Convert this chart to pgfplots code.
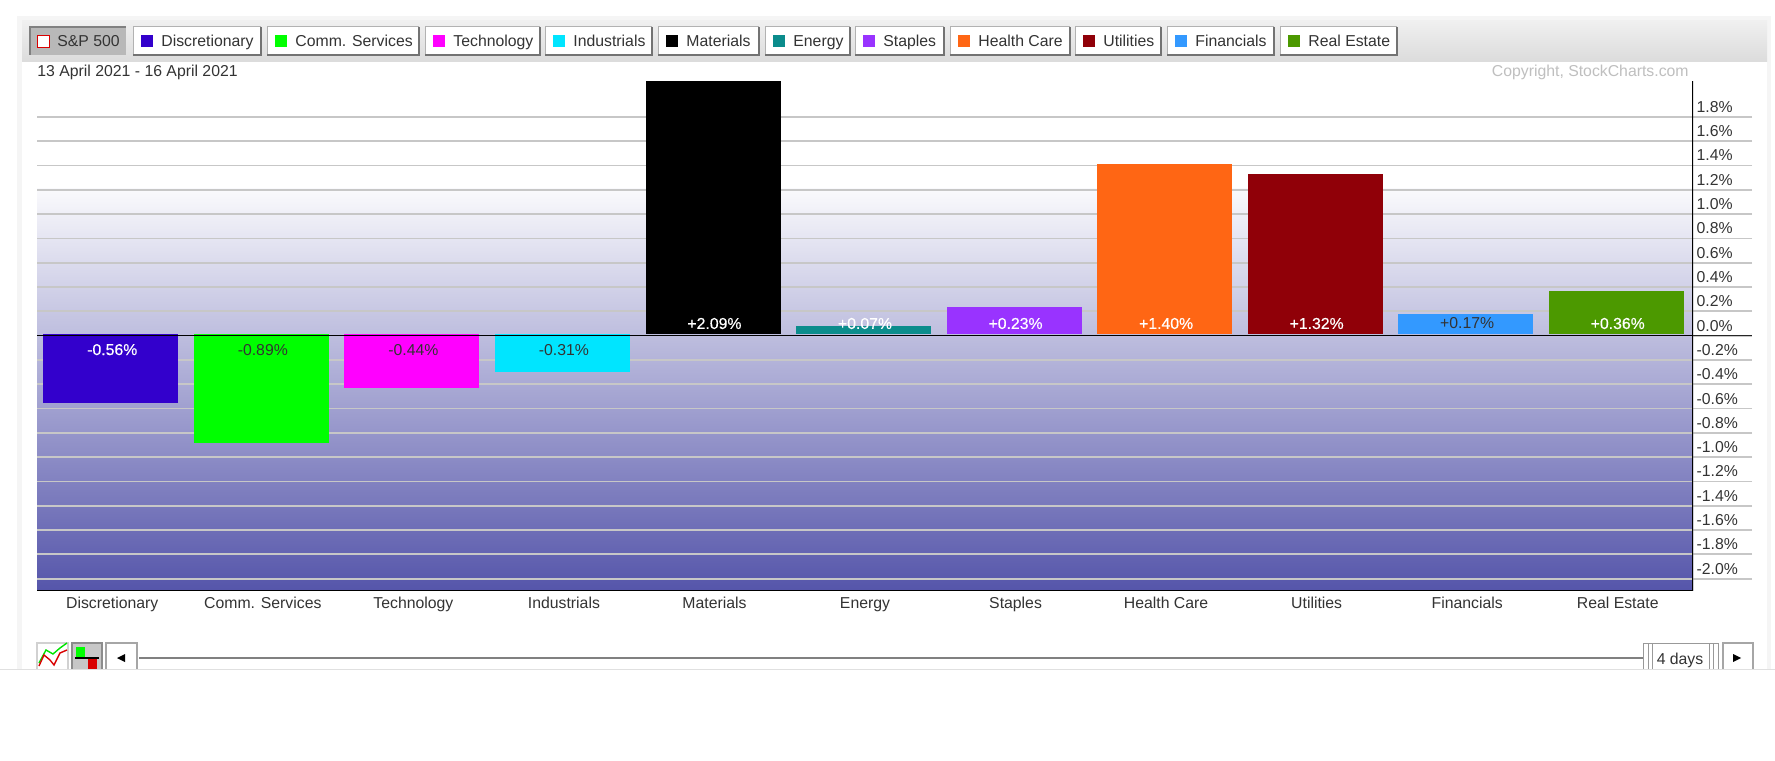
\documentclass[border=0pt]{standalone}
\usepackage{pgfplots}
\pgfplotsset{compat=1.18}
\usepackage{fontspec}
\setmainfont{Liberation Sans}
\newfontface\lblface[FakeBold=0.35]{Liberation Sans}
\definecolor{txt}{HTML}{333333}
\definecolor{bgbot}{HTML}{5555AA}
\definecolor{cDisc}{HTML}{3300CC}
\definecolor{cComm}{HTML}{00FF00}
\definecolor{cTech}{HTML}{FF00FF}
\definecolor{cInd}{HTML}{00E5FF}
\definecolor{cMat}{HTML}{000000}
\definecolor{cEne}{HTML}{0B8C8C}
\definecolor{cSta}{HTML}{9933FF}
\definecolor{cHea}{HTML}{FF6614}
\definecolor{cUti}{HTML}{900008}
\definecolor{cFin}{HTML}{3399FF}
\definecolor{cRea}{HTML}{4C9900}
\pgfdeclareverticalshading{chartbg}{100bp}{color(0bp)=(bgbot); color(25bp)=(bgbot); color(64.5bp)=(white!97!bgbot); color(64.6bp)=(white); color(100bp)=(white)}
\newcommand{\fs}{\fontsize{7.9}{9.5}\selectfont}
% x0,x1,colour,text
\newcommand{\btn}[4]{%
  \fill[white] (#1,27) rectangle (#2,55);
  \draw[black!30,line width=.5pt] (#1,55) -- (#1,27) -- (#2,27);
  \draw[black!55,line width=.8pt] (#2,27) -- (#2,55) -- (#1,55);
  \fill[#3] ({#1+8},35) rectangle ({#1+20},47);
  \node[anchor=base west,inner sep=0pt,text=txt,font=\fs] at ({#1+28},47) {#4};
}
\pgfplotsset{br/.style={ybar,bar width=67.5pt,bar shift=-0.7pt,draw=none,yshift=0.6pt}}
\begin{document}
\begin{tikzpicture}
\path[use as bounding box] (0,0) rectangle (887.5pt,380pt);
\begin{scope}[shift={(0pt,380pt)},x=0.5pt,y=-0.5pt]
  \fill[black!4] (17,16) rectangle (1771,669);
  \fill[white] (22,62) rectangle (1767,669);
  \shade[top color=black!6,bottom color=black!14] (22,21) rectangle (1767,62);
  % S&P button
  \fill[black!28] (30,27) rectangle (126,55);
  \draw[black!50,line width=.8pt] (30,55) -- (30,27) -- (126,27);
  \fill[white] (37,35) rectangle (49,47);
  \draw[red!85!black,line width=.45pt] (37,35) rectangle (49,47);
  \node[anchor=base west,inner sep=0pt,text=txt,font=\fs] at (57,47) {S\&P 500};
  \btn{133}{261}{cDisc}{Discretionary}
  \btn{267}{419}{cComm}{Comm. Services}
  \btn{425}{540}{cTech}{Technology}
  \btn{545}{652}{cInd}{Industrials}
  \btn{658}{759}{cMat}{Materials}
  \btn{765}{850}{cEne}{Energy}
  \btn{855}{944}{cSta}{Staples}
  \btn{950}{1070}{cHea}{Health Care}
  \btn{1075}{1161}{cUti}{Utilities}
  \btn{1167}{1274}{cFin}{Financials}
  \btn{1280}{1397}{cRea}{Real Estate}
  \node[anchor=base west,inner sep=0pt,text=txt,font=\fs] at (37,77) {13 April 2021 - 16 April 2021};
  \node[anchor=base east,inner sep=0pt,text=black!25,font=\fs] at (1689,77) {Copyright, StockCharts.com};
  % bottom controls
  \draw[black!18,line width=.6pt] (37,669) -- (37,643) -- (68,643) -- (68,669);
  \draw[green!90!black,line width=.7pt] (39,663) -- (46,650) -- (53,654) -- (60,648) -- (67,643);
  \draw[red!85!black,line width=.7pt] (39,666) -- (44,655) -- (50,660) -- (54,665) -- (60,653) -- (67,650);
  \fill[black!22] (72,643) rectangle (102,669);
  \draw[black!45,line width=.6pt] (72,669) -- (72,643) -- (102,643) -- (102,669);
  \fill[green] (76,647) rectangle (85,658);
  \fill[red!85!black] (88,659) rectangle (97,669);
  \draw[black,line width=.6pt] (75,658) -- (99,658);
  \draw[black!35,line width=.6pt] (106,669) -- (106,643) -- (137,643) -- (137,669);
  \fill[black] (117,658) -- (125,654) -- (125,662) -- cycle;
  \draw[black!50,line width=.7pt] (139,658) -- (1643,658);
  \draw[black!40,line width=.5pt] (1643,669) -- (1643,643) -- (1718,643) -- (1718,669);
  \draw[black!40,line width=.5pt] (1648,669) -- (1648,643) (1652,669) -- (1652,643);
  \draw[black!40,line width=.5pt] (1709,669) -- (1709,643) (1713,669) -- (1713,643);
  \node[anchor=base,inner sep=0pt,text=txt,font=\fs] at (1680,664) {4 days};
  \draw[black!35,line width=.6pt] (1723,669) -- (1723,643) -- (1753,643) -- (1753,669);
  \fill[black] (1741,658) -- (1733,654) -- (1733,662) -- cycle;
  \fill[white] (0,669.5) rectangle (1775,760);
  \draw[black!12,line width=.6pt] (0,669.5) -- (1775,669.5);
\end{scope}
\begin{axis}[
  at={(18.5pt,84.65pt)}, anchor=south west,
  scale only axis, width=828pt, height=254.85pt,
  xmin=-0.5, xmax=10.5, ymin=-2.099, ymax=2.096,
  clip=true,
  axis line style={draw=none},
  axis background/.style={shading=chartbg},
  xtick={0,1,2,3,4,5,6,7,8,9,10},
  xticklabels={Discretionary,Comm. Services,Technology,Industrials,Materials,Energy,Staples,Health Care,Utilities,Financials,Real Estate},
  x tick style={draw=none},
  xticklabel style={font=\fs,text=txt,anchor=base,yshift=20.4pt},
  ytick={-2,-1.8,-1.6,-1.4,-1.2,-1,-0.8,-0.6,-0.4,-0.2,0.2,0.4,0.6,0.8,1,1.2,1.4,1.6,1.8},
  yticklabels={-2.0\%,-1.8\%,-1.6\%,-1.4\%,-1.2\%,-1.0\%,-0.8\%,-0.6\%,-0.4\%,-0.2\%,0.2\%,0.4\%,0.6\%,0.8\%,1.0\%,1.2\%,1.4\%,1.6\%,1.8\%},
  extra y ticks={0},
  extra y tick labels={0.0\%},
  extra y tick style={yticklabel pos=right,ymajorgrids=false},
  ytick pos=right, yticklabel pos=right,
  tick align=outside,
  major tick length=29.5pt,
  y tick style={draw=black!22,line width=.9pt},
  yticklabel style={font=\fs,text=txt,anchor=west,xshift=-31.2pt,yshift=5pt},
  ymajorgrids,
  major grid style={draw=black!22,line width=.9pt},
]
\addplot[br,fill=cDisc] coordinates {(0,-0.56)};
\addplot[br,fill=cComm] coordinates {(1,-0.89)};
\addplot[br,fill=cTech] coordinates {(2,-0.44)};
\addplot[br,fill=cInd] coordinates {(3,-0.31)};
\addplot[br,fill=cMat] coordinates {(4,2.09)};
\addplot[br,fill=cEne] coordinates {(5,0.07)};
\addplot[br,fill=cSta] coordinates {(6,0.23)};
\addplot[br,fill=cHea] coordinates {(7,1.40)};
\addplot[br,fill=cUti] coordinates {(8,1.32)};
\addplot[br,fill=cFin] coordinates {(9,0.17)};
\addplot[br,fill=cRea] coordinates {(10,0.36)};
\begin{scope}[every node/.style={font=\fs,inner sep=0pt}]
\node[text=white,font=\fs\lblface] at (axis cs:0,-0.115) {-0.56\%};
\node[text=txt] at (axis cs:1,-0.115) {-0.89\%};
\node[text=txt] at (axis cs:2,-0.115) {-0.44\%};
\node[text=txt] at (axis cs:3,-0.115) {-0.31\%};
\node[text=white,font=\fs\lblface] at (axis cs:4,0.1) {+2.09\%};
\node[text=white,font=\fs\lblface] at (axis cs:5,0.1) {+0.07\%};
\node[text=white,font=\fs\lblface] at (axis cs:6,0.1) {+0.23\%};
\node[text=white,font=\fs\lblface] at (axis cs:7,0.1) {+1.40\%};
\node[text=white,font=\fs\lblface] at (axis cs:8,0.1) {+1.32\%};
\node[text=txt] at (axis cs:9,0.1) {+0.17\%};
\node[text=white,font=\fs\lblface] at (axis cs:10,0.1) {+0.36\%};
\end{scope}
\draw[black,line width=.7pt] (axis cs:-0.5,-2.099) -- (axis cs:10.5,-2.099);
\draw[black,line width=.7pt] (axis cs:10.5,-2.099) -- (axis cs:10.5,2.096);
\draw[black,line width=.7pt] (axis cs:-0.5,0) -- (axis cs:10.5,0);
\end{axis}
\draw[black!85,line width=.7pt] (846.5pt,212.2pt) -- (876pt,212.2pt);
\end{tikzpicture}
\end{document}
